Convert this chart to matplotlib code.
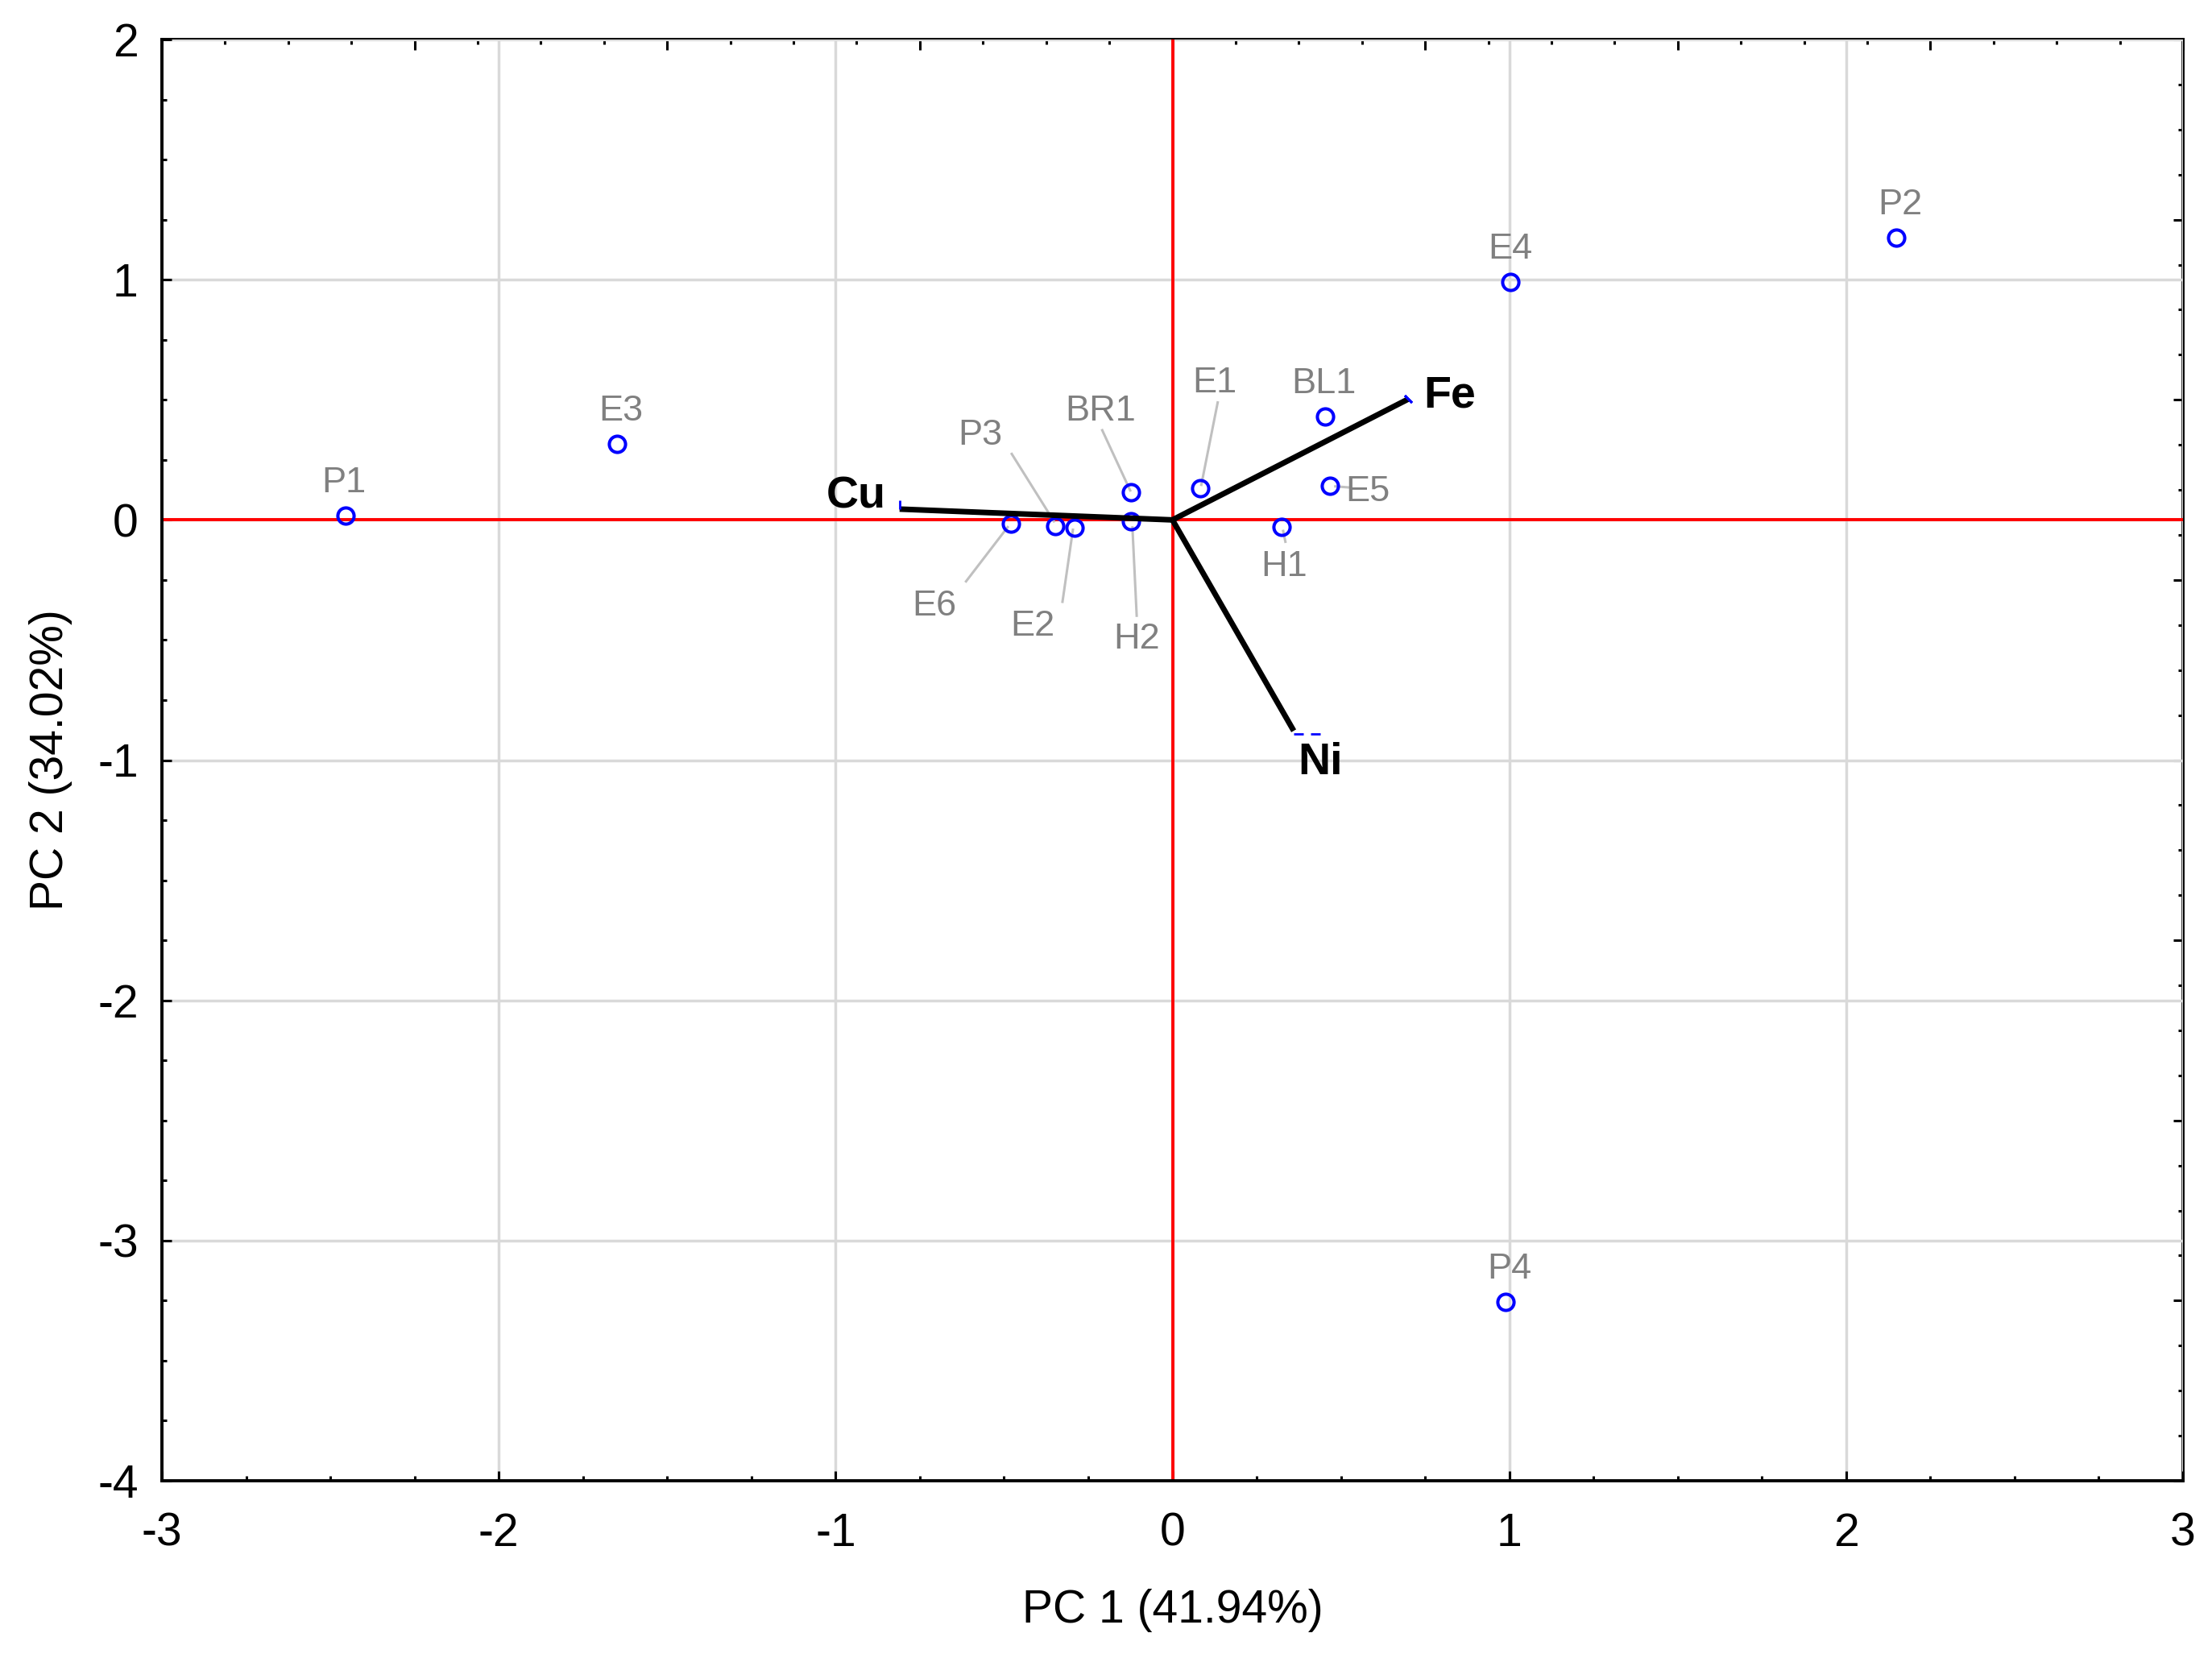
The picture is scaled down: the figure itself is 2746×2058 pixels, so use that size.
import numpy as np
import matplotlib
matplotlib.use("Agg")
import matplotlib.pyplot as plt
from matplotlib.ticker import MultipleLocator, AutoMinorLocator, NullFormatter
from matplotlib.path import Path

plt.rcParams['font.family'] = ['Liberation Sans', 'DejaVu Sans']

# ---------------- data ----------------
sample_names = ["P1", "E3", "P2", "E4", "P4", "BL1", "E1", "E5", "H1",
                "BR1", "H2", "E2", "P3", "E6"]
pc1_scores = [-2.455, -1.650, 2.148, 1.004, 0.989, 0.453, 0.082, 0.467, 0.325,
              -0.122, -0.122, -0.291, -0.349, -0.480]
pc2_scores = [0.017, 0.317, 1.175, 0.990, -3.257, 0.432, 0.131, 0.141, -0.028,
              0.115, -0.006, -0.032, -0.026, -0.015]

# label anchor (horizontal centre, baseline)
label_x = [-2.459, -1.638, 2.160, 1.003, 1.000, 0.450, 0.126, 0.579, 0.331,
           -0.213, -0.107, -0.416, -0.571, -0.706]
label_y = [0.116, 0.415, 1.273, 1.089, -3.158, 0.528, 0.532, 0.079, -0.233,
           0.415, -0.536, -0.481, 0.314, -0.397]

# leader lines: sample -> (start x, start y, end x, end y)
leader_names = ["E1", "BR1", "P3", "E6", "E2", "H2", "H1", "E5"]
leader_x0 = [0.135, -0.210, -0.479, -0.615, -0.327, -0.106, 0.336, 0.525]
leader_y0 = [0.494, 0.378, 0.279, -0.260, -0.346, -0.404, -0.096, 0.135]
leader_x1 = [0.085, -0.124, -0.350, -0.487, -0.295, -0.119, 0.328, 0.480]
leader_y1 = [0.141, 0.118, -0.010, -0.026, -0.036, -0.026, -0.041, 0.140]

var_names = ["Cu", "Fe", "Ni"]
var_pc1 = [-0.810, 0.700, 0.360]
var_pc2 = [0.045, 0.503, -0.878]
var_label_x = [-0.939, 0.824, 0.438]
var_label_y = [0.051, 0.468, -1.058]

x_label = "PC 1 (41.94%)"
y_label = "PC 2 (34.02%)"
x_ticks = [-3, -2, -1, 0, 1, 2, 3]
y_ticks = [-4, -3, -2, -1, 0, 1, 2]

# ---------------- figure ----------------
fig = plt.figure(figsize=(27.46, 20.58), dpi=100)
ax = fig.add_axes([201/2746, 1 - 1838/2058, (2710 - 201)/2746, (1838 - 49)/2058])

ax.set_xlim(-3, 3)
ax.set_ylim(-4, 2)
ax.set_xticks(x_ticks)
ax.set_yticks(y_ticks)
ax.set_xticklabels([str(t) for t in x_ticks])
ax.set_yticklabels([str(t) for t in y_ticks])
ax.xaxis.set_minor_locator(AutoMinorLocator(4))
ax.yaxis.set_minor_locator(AutoMinorLocator(4))

ax.grid(True, which='major', color='#d9d9d9', linewidth=2.5, zorder=0)
ax.set_axisbelow(True)

for s in ax.spines.values():
    s.set_linewidth(2.8)
    s.set_color('black')
ax.spines['top'].set_visible(False)
ax.spines['right'].set_visible(False)

ax.tick_params(axis='both', which='both', direction='in', top=False, right=False,
               width=2.2, color='black')
ax.tick_params(axis='both', which='major', length=8.5, labelsize=41)
ax.tick_params(axis='both', which='minor', length=4)
ax.tick_params(axis='y', which='major', pad=21)
ax.tick_params(axis='x', which='major', pad=28)

# secondary (loading) scales on top and right
secx = ax.secondary_xaxis('top', functions=(lambda x: x / 0.75, lambda v: v * 0.75))
secx.xaxis.set_major_locator(MultipleLocator(1))
secx.xaxis.set_minor_locator(AutoMinorLocator(4))
secx.xaxis.set_major_formatter(NullFormatter())
secx.tick_params(which='both', direction='in', width=2.2)
secx.tick_params(which='major', length=9)
secx.tick_params(which='minor', length=4.5)
secx.spines['top'].set_linewidth(2.8)

secy = ax.secondary_yaxis('right', functions=(lambda y: (y - 2) / 0.75, lambda v: v * 0.75 + 2))
secy.yaxis.set_major_locator(MultipleLocator(1))
secy.yaxis.set_minor_locator(AutoMinorLocator(4))
secy.yaxis.set_major_formatter(NullFormatter())
secy.tick_params(which='both', direction='in', width=2.2)
secy.tick_params(which='major', length=9)
secy.tick_params(which='minor', length=4.5)
secy.spines['right'].set_linewidth(2.8)

# red reference lines
ax.axhline(0, color='#ff0000', linewidth=2.8, zorder=1)
ax.axvline(0, color='#ff0000', linewidth=2.8, zorder=1)

# leader lines
for x0, y0, x1, y1 in zip(leader_x0, leader_y0, leader_x1, leader_y1):
    ax.plot([x0, x1], [y0, y1], color='#c0c0c0', linewidth=2.2, zorder=2,
            solid_capstyle='butt')

# sample points
ax.plot(pc1_scores, pc2_scores, linestyle='none', marker='o', markersize=14.5,
        markerfacecolor='none', markeredgecolor='#0000ff', markeredgewidth=2.9, zorder=3)

# variable vectors
for vx, vy in zip(var_pc1, var_pc2):
    ax.plot([0, vx], [0, vy], color='black', linewidth=5.0, zorder=4,
            solid_capstyle='butt')

# small blue end marks on vectors
ax.plot(var_pc1[0], var_pc2[0], marker=2, markersize=8, color='#0000ff',
        markeredgewidth=2, linestyle='none', zorder=5)
ax.plot(var_pc1[1], var_pc2[1], marker=(2, 2, 45), markersize=9, color='#0000ff',
        markeredgewidth=2, linestyle='none', zorder=5)
dash_path = Path([(0, 0), (0.35, 0), (0.62, 0), (1, 0)],
                 [Path.MOVETO, Path.LINETO, Path.MOVETO, Path.LINETO])
ax.plot(var_pc1[2], var_pc2[2] - 0.012, marker=dash_path, markersize=48, color='#0000ff',
        markeredgewidth=2, linestyle='none', zorder=5)

# sample labels
for name, lx, ly in zip(sample_names, label_x, label_y):
    ax.text(lx, ly, name, color='#808080', fontsize=32.5, ha='center', va='baseline',
            zorder=6)

# variable labels
for name, lx, ly in zip(var_names, var_label_x, var_label_y):
    ax.text(lx, ly, name, color='black', fontsize=40, fontweight='bold',
            ha='center', va='baseline', zorder=6)

ax.set_xlabel(x_label, fontsize=41)
ax.set_ylabel(y_label, fontsize=41)
ax.xaxis.set_label_coords(0.5, -0.0749)
ax.yaxis.set_label_coords(-0.0442, 0.5)

fig.savefig("out.png", dpi=100)
